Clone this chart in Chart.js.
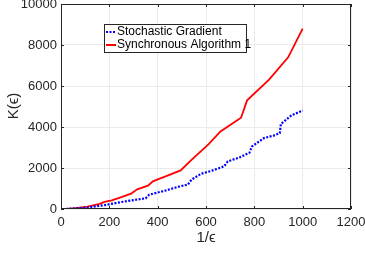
<!DOCTYPE html>
<html lang="en">
<head>
  <meta charset="UTF-8" />
  <title>K(eps) vs 1/eps</title>
  <script src="https://cdn.jsdelivr.net/npm/chart.js"></script>
  <style>
    html, body { margin: 0; padding: 0; background: #fff; }
    #wrap { width: 365px; height: 254px; position: relative; }
  </style>
</head>
<body>
  <div id="wrap"><canvas id="chart"></canvas></div>
  <script>
    // data
    const sgX = [20, 100, 180, 250, 330, 350, 365, 430, 490, 525, 540, 580, 620, 675, 690, 740, 780, 790, 840, 880, 905, 910, 955, 1000];
    const sgY = [0, 60, 190, 340, 490, 520, 700, 890, 1100, 1190, 1430, 1720, 1850, 2080, 2320, 2520, 2750, 3050, 3460, 3580, 3700, 4150, 4580, 4800];
    const syncX = [20, 60, 110, 160, 180, 210, 250, 290, 315, 360, 380, 430, 495, 540, 610, 660, 745, 770, 860, 940, 1000];
    const syncY = [0, 40, 120, 250, 350, 420, 580, 750, 960, 1140, 1350, 1580, 1880, 2400, 3150, 3780, 4450, 5300, 6300, 7400, 8800];
    const xTicks = [0, 200, 400, 600, 800, 1000, 1200];
    const yTicks = [0, 2000, 4000, 6000, 8000, 10000];
    const seriesNames = ['Stochastic Gradient', 'Synchronous Algorithm 1'];

    const pts = (xs, ys) => xs.map((x, i) => ({ x: x, y: ys[i] }));
    const FONT = 'Liberation Sans, Arial, sans-serif';

    // box, axis labels and legend (MATLAB style)
    const decor = {
      id: 'decor',
      afterDraw(chart) {
        const c = chart.ctx, a = chart.chartArea;
        c.save();
        c.strokeStyle = '#262626';
        c.lineWidth = 1;
        c.strokeRect(a.left + 0.5, a.top + 0.5, a.right - a.left - 1, a.bottom - a.top - 1);
        // inward ticks
        c.beginPath();
        xTicks.forEach(v => {
          const px = Math.round(chart.scales.x.getPixelForValue(v)) + 0.5;
          c.moveTo(px, a.bottom); c.lineTo(px, a.bottom - 3);
          c.moveTo(px, a.top); c.lineTo(px, a.top + 3);
        });
        yTicks.forEach(v => {
          const py = Math.round(chart.scales.y.getPixelForValue(v)) + 0.5;
          c.moveTo(a.left, py); c.lineTo(a.left + 3, py);
          c.moveTo(a.right, py); c.lineTo(a.right - 3, py);
        });
        c.stroke();

        c.fillStyle = '#262626';
        c.font = '15px ' + FONT;
        c.textAlign = 'center';
        c.textBaseline = 'middle';
        c.fillText('1/ϵ', 206, 238);
        c.translate(14, 106);
        c.rotate(-Math.PI / 2);
        c.fillText('K(ϵ)', 0, 0);
        c.restore();

        // legend
        c.save();
        const lx = 104.5, ly = 24.5, lw = 142, lh = 28;
        c.fillStyle = '#fff';
        c.fillRect(lx, ly, lw, lh);
        c.strokeStyle = '#262626';
        c.lineWidth = 1;
        c.strokeRect(lx, ly, lw, lh);
        c.font = '12px ' + FONT;
        c.textAlign = 'left';
        c.textBaseline = 'middle';
        c.fillStyle = '#000';
        c.lineWidth = 2;
        c.strokeStyle = '#0000ff';
        c.setLineDash([2, 1.5]);
        c.beginPath(); c.moveTo(106, 32); c.lineTo(116, 32); c.stroke();
        c.setLineDash([]);
        c.strokeStyle = '#ff0000';
        c.beginPath(); c.moveTo(106, 45); c.lineTo(116, 45); c.stroke();
        c.fillText(seriesNames[0], 117, 32);
        c.fillText(seriesNames[1], 117, 45);
        c.restore();
      }
    };

    new Chart(document.getElementById('chart'), {
      type: 'line',
      data: {
        datasets: [{
          label: seriesNames[0],
          data: pts(sgX, sgY),
          borderColor: '#0000ff',
          borderWidth: 2.2,
          borderDash: [2, 1.5],
          pointRadius: 0,
          tension: 0
        }, {
          label: seriesNames[1],
          data: pts(syncX, syncY),
          borderColor: '#ff0000',
          borderWidth: 1.8,
          pointRadius: 0,
          tension: 0
        }]
      },
      options: {
        responsive: true,
        maintainAspectRatio: false,
        animation: false,
        layout: { padding: { top: 4, right: 14, left: 0, bottom: 0 } },
        plugins: { legend: { display: false }, tooltip: { enabled: false } },
        scales: {
          x: {
            type: 'linear', min: 0, max: 1200,
            afterBuildTicks: s => { s.ticks = xTicks.map(v => ({ value: v })); },
            afterFit: s => { s.height = 45; s.paddingLeft = 0; s.paddingRight = 0; },
            grid: { color: '#ebebeb', drawTicks: false },
            border: { display: false },
            ticks: { color: '#262626', padding: 6, maxRotation: 0, font: { family: FONT, size: 13 }, callback: v => String(v) }
          },
          y: {
            min: 0, max: 10000,
            afterBuildTicks: s => { s.ticks = yTicks.map(v => ({ value: v })); },
            afterFit: s => { s.width = 61; s.paddingTop = 0; s.paddingBottom = 0; },
            grid: { color: '#ebebeb', drawTicks: false },
            border: { display: false },
            ticks: { color: '#262626', padding: 4, font: { family: FONT, size: 13 }, callback: v => String(v) }
          }
        }
      },
      plugins: [decor]
    });
  </script>
</body>
</html>
